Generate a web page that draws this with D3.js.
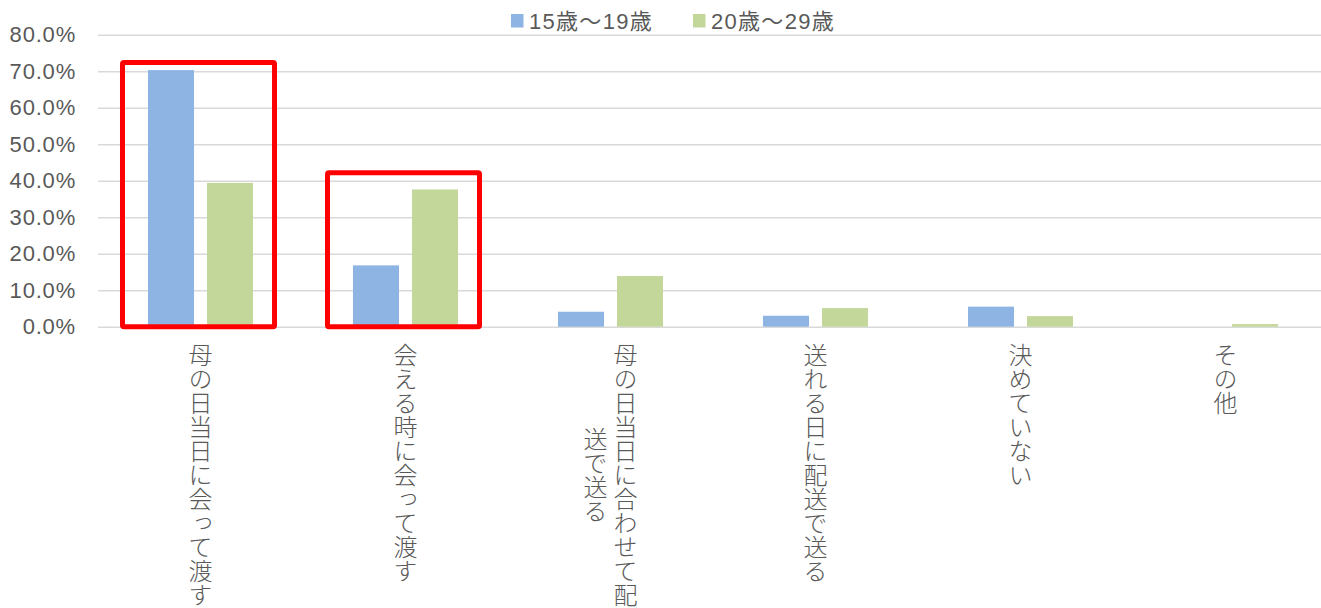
<!DOCTYPE html>
<html>
<head>
<meta charset="utf-8">
<script src="https://cdn.jsdelivr.net/npm/d3@7"></script>
<style>
  body { margin: 0; background: #fff; }
  svg { display: block; }
  text { fill: #595959; }
</style>
</head>
<body>
<svg id="chart" width="1321" height="608"></svg>
<script>
// categories and the wrapped axis labels
const categories = ["母の日当日に会って渡す", "会える時に会って渡す", "母の日当日に合わせて配送で送る", "送れる日に配送で送る", "決めていない", "その他"];
const labelLines = [["母の日当日に会って渡す"], ["会える時に会って渡す"], ["母の日当日に合わせて配", "送で送る"], ["送れる日に配送で送る"], ["決めていない"], ["その他"]];

// series values (%)
const seriesNames = ["15歳～19歳", "20歳～29歳"];
const teens = [70.3, 16.8, 4.1, 3.0, 5.5, 0];
const twenties = [39.4, 37.6, 13.9, 5.1, 2.9, 0.7];
const colors = ["#8eb4e3", "#c4d79b"];

const yTicks = [0, 10, 20, 30, 40, 50, 60, 70, 80];

// red highlight boxes: category index and top value
const highlightCats = [0, 1];
const highlightTop = [72.4, 42.2];

const svg = d3.select("#chart");
const margin = {top: 35, right: -7, bottom: 282, left: 98};
const width = 1321, height = 608;

const x = d3.scaleBand()
    .domain(categories)
    .range([margin.left, width - margin.right]);

const xs = d3.scaleBand()
    .domain(seriesNames)
    .range([0, x.bandwidth()])
    .paddingInner(13 / 59)
    .paddingOuter(0.847);

const y = d3.scaleLinear()
    .domain([0, 80])
    .range([height - margin.bottom + 0.7, margin.top - 0.3]);

//grid lines + y labels
const yAxis = svg.append("g")
    .attr("transform", `translate(${margin.left},0)`)
    .call(d3.axisLeft(y)
        .tickValues(yTicks)
        .tickSize(-(width - margin.right - margin.left))
        .tickPadding(22)
        .tickFormat(d => d.toFixed(1) + "%"));
yAxis.select(".domain").remove();
yAxis.selectAll("line").attr("stroke", "#d9d9d9").attr("stroke-width", 1.6);
yAxis.selectAll("text")
    .attr("fill", "#595959")
    .style("font", "22px 'Liberation Sans', Arial, sans-serif")
    .style("letter-spacing", "0.8px");

//bars
const rows = categories.map((c, i) => ({cat: c, values: [teens[i], twenties[i]]}));
svg.append("g")
    .selectAll("g")
    .data(rows)
    .join("g")
        .attr("transform", d => `translate(${x(d.cat)},0)`)
    .selectAll("rect")
    .data(d => d.values.map((v, j) => ({name: seriesNames[j], value: v, j: j})))
    .join("rect")
        .attr("x", d => xs(d.name))
        .attr("y", d => y(d.value))
        .attr("width", xs.bandwidth())
        .attr("height", d => y(0) - y(d.value))
        .attr("fill", d => colors[d.j]);

//red boxes
svg.append("g")
    .selectAll("rect")
    .data(highlightCats)
    .join("rect")
        .attr("x", (c, i) => x(categories[c]) + xs(seriesNames[0]) - 25.5)
        .attr("y", (c, i) => y(highlightTop[i]))
        .attr("width", xs(seriesNames[1]) + xs.bandwidth() - xs(seriesNames[0]) + 47)
        .attr("height", (c, i) => y(0) - y(highlightTop[i]))
        .attr("rx", 1.5)
        .attr("fill", "none")
        .attr("stroke", "#ff0000")
        .attr("stroke-width", 5);

//vertical category labels
const fs = 24;
const labelTop = 343;
const labels = svg.append("g")
    .selectAll("g")
    .data(labelLines)
    .join("g")
        .attr("transform", (d, i) => `translate(${x(categories[i]) + x.bandwidth() / 2},0)`);
labels.selectAll("text")
    .data(d => d.map((line, k) => ({line: line, k: k, n: d.length, maxLen: d3.max(d, l => l.length)})))
    .join("text")
        .attr("x", d => (d.n - 1) * 15 - d.k * 30)
        .attr("y", d => labelTop + d.maxLen * fs / 2)
        .attr("text-anchor", "middle")
        .style("writing-mode", "vertical-rl")
        .style("font", `${fs}px 'Noto Sans CJK JP', sans-serif`)
        .style("font-weight", 300)
        .text(d => d.line);

//legend
const legend = svg.append("g")
    .selectAll("g")
    .data(seriesNames)
    .join("g")
        .attr("transform", (d, i) => `translate(${511 + i * 182},0)`);
legend.append("rect")
    .attr("x", 0).attr("y", 14)
    .attr("width", 12.5).attr("height", 13.5)
    .attr("fill", (d, i) => colors[i]);
legend.append("text")
    .attr("x", 18).attr("y", 28.5)
    .style("font", "22px 'Liberation Sans', 'Noto Sans CJK JP', sans-serif")
    .style("letter-spacing", "1.3px")
    .text(d => d);
</script>
</body>
</html>
